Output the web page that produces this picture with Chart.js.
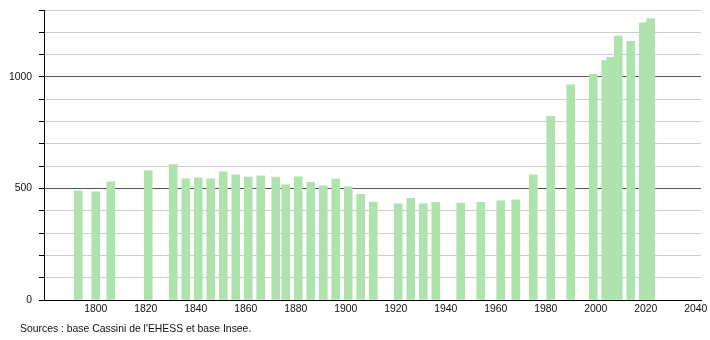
<!DOCTYPE html>
<html>
<head>
<meta charset="utf-8">
<script src="https://cdn.jsdelivr.net/npm/chart.js@4.4.1/dist/chart.umd.min.js"></script>
<style>
  body { margin: 0; background: #fff; }
  #wrap { width: 710px; height: 340px; }
</style>
</head>
<body>
<div id="wrap"><canvas id="popChart" width="710" height="340"></canvas></div>
<script>
// census years and population
var years = [1793, 1800, 1806, 1821, 1831, 1836, 1841, 1846, 1851, 1856, 1861, 1866, 1872, 1876, 1881, 1886, 1891, 1896, 1901, 1906, 1911,
  1921, 1926, 1931, 1936, 1946, 1954, 1962, 1968, 1975, 1982, 1990, 1999, 2004, 2006, 2009, 2014, 2019, 2022];
var population = [489, 485, 530, 580, 607, 543, 548, 543, 575, 561, 551, 557, 551, 516, 552, 528, 512, 542, 507, 474, 439,
  431, 456, 431, 438, 435, 438, 444, 449, 561, 823, 964, 1012, 1073, 1088, 1183, 1159, 1243, 1261];
var xTicks = [1800, 1820, 1840, 1860, 1880, 1900, 1920, 1940, 1960, 1980, 2000, 2020, 2040];
var yLabels = [0, 500, 1000];
var sourceText = "Sources : base Cassini de l'EHESS et base Insee.";

var FONT = '"Liberation Sans", Arial, sans-serif';

var points = [];
for (var i = 0; i < years.length; i++) {
  points.push({ x: years[i], y: population[i] });
}

var sourcePlugin = {
  id: 'sourceText',
  afterDraw: function(chart) {
    var ctx = chart.ctx;
    ctx.save();
    ctx.font = '10.4px ' + FONT;
    ctx.fillStyle = '#111';
    ctx.textBaseline = 'middle';
    ctx.textAlign = 'left';
    ctx.fillText(sourceText, 20, 329);
    ctx.restore();
  }
};

new Chart(document.getElementById('popChart'), {
  type: 'bar',
  data: {
    datasets: [{
      data: points,
      backgroundColor: '#aee3ae',
      borderWidth: 0,
      barThickness: 8
    }]
  },
  options: {
    responsive: false,
    animation: false,
    devicePixelRatio: 1,
    layout: { padding: { top: 10, right: 9, left: 0, bottom: 0 } },
    plugins: { legend: { display: false }, tooltip: { enabled: false } },
    scales: {
      x: {
        type: 'linear',
        offset: false,
        min: 1779.3,
        max: 2042.1,
        afterBuildTicks: function(scale) {
          scale.ticks = xTicks.map(function(v) { return { value: v }; });
        },
        afterFit: function(scale) {
          scale.height = 40;
          scale.paddingLeft = 0;
          scale.paddingRight = 0;
        },
        grid: { display: false, drawTicks: false, tickLength: 0 },
        border: { color: '#000', width: 1 },
        ticks: {
          autoSkip: false,
          maxRotation: 0,
          padding: 3,
          color: '#111',
          font: { family: FONT, size: 10.4 },
          callback: function(v) { return String(v); }
        }
      },
      y: {
        min: 0,
        max: 1300,
        afterFit: function(scale) {
          scale.width = 44;
          scale.paddingTop = 0;
          scale.paddingBottom = 0;
        },
        grid: {
          color: function(c) { return c.tick && c.tick.value % 500 === 0 ? '#555' : '#cccccc'; },
          tickColor: '#000',
          tickLength: 5
        },
        border: { color: '#000', width: 1 },
        ticks: {
          stepSize: 100,
          autoSkip: false,
          padding: 7,
          color: '#111',
          font: { family: FONT, size: 10.4 },
          callback: function(v) { return yLabels.indexOf(v) >= 0 ? String(v) : ''; }
        }
      }
    }
  },
  plugins: [sourcePlugin]
});
</script>
</body>
</html>
